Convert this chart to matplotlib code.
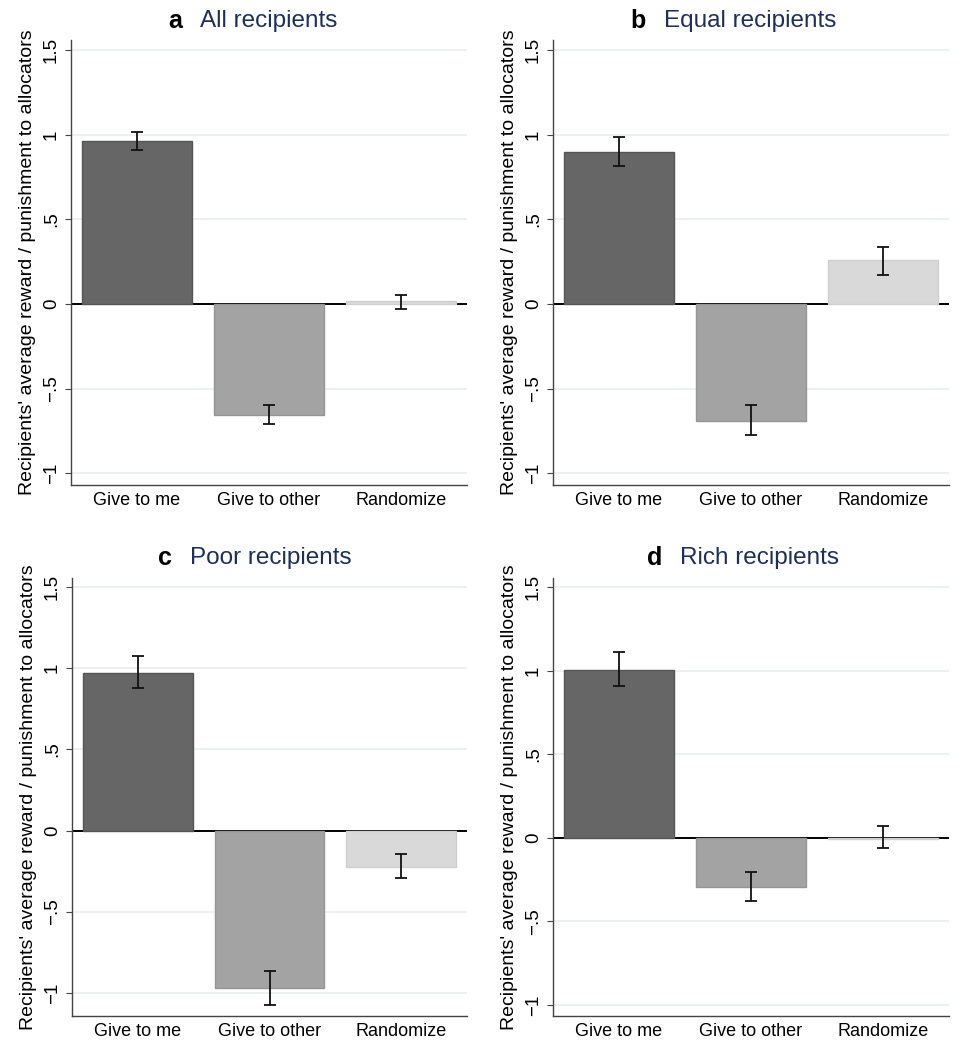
import matplotlib
matplotlib.use("Agg")
import matplotlib.pyplot as plt
import numpy as np

plt.rcParams['font.family'] = ['Liberation Sans', 'DejaVu Sans']

categories = ["Give to me", "Give to other", "Randomize"]
panel_letters = ["a", "b", "c", "d"]
panel_titles = ["All recipients", "Equal recipients", "Poor recipients", "Rich recipients"]

means_a = [0.962, -0.655, 0.015]
lo_a = [0.907, -0.708, -0.030]
hi_a = [1.015, -0.596, 0.055]

means_b = [0.901, -0.689, 0.258]
lo_b = [0.814, -0.773, 0.173]
hi_b = [0.986, -0.600, 0.335]

means_c = [0.973, -0.969, -0.221]
lo_c = [0.877, -1.072, -0.293]
hi_c = [1.074, -0.863, -0.145]

means_d = [1.006, -0.293, -0.006]
lo_d = [0.910, -0.377, -0.062]
hi_d = [1.110, -0.206, 0.068]

yticks = [-1, -0.5, 0, 0.5, 1, 1.5]
ytick_labels = ["\u22121", "\u2212.5", "0", ".5", "1", "1.5"]

bar_colors = ["#666666", "#a3a3a3", "#d9d9d9"]
edge_colors = ["#555555", "#959595", "#cfcfcf"]
title_color = "#1f2f5c"

W, H = 966, 1050
fig = plt.figure(figsize=(W / 100, H / 100), dpi=100)

# axes boxes in pixels: left, right, top, bottom
boxes = [(71, 467, 40, 485), (553, 949, 40, 485),
         (72, 467, 578, 1016), (553, 949, 578, 1016)]
title_pos = [(200, 21), (664, 21), (190, 558), (680, 558)]
ylims = [(-1.07, 1.56), (-1.07, 1.56), (-1.14, 1.555), (-1.066, 1.555)]
data = [(means_a, lo_a, hi_a), (means_b, lo_b, hi_b),
        (means_c, lo_c, hi_c), (means_d, lo_d, hi_d)]

for i, (box, yl, (m, lo, hi)) in enumerate(zip(boxes, ylims, data)):
    l, r, t, b = box
    ax = fig.add_axes([l / W, 1 - b / H, (r - l) / W, (b - t) / H])
    x = np.arange(len(categories))
    for yv in [-1, -0.5, 0.5, 1, 1.5]:
        ax.axhline(yv, color="#e8f0f1", lw=1.2, zorder=0)
    ax.axhline(0, color="black", lw=1.4, zorder=1)
    ax.bar(x, m, width=0.835, color=bar_colors, edgecolor=edge_colors,
           linewidth=1.0, zorder=2)
    m_arr = np.array(m)
    yerr = np.vstack([m_arr - np.array(lo), np.array(hi) - m_arr])
    ax.errorbar(x, m, yerr=yerr, fmt="none", ecolor="#111111",
                elinewidth=1.3, capsize=4, capthick=1.3, zorder=3)
    ax.set_xlim(-0.5, 2.5)
    ax.set_ylim(*yl)
    ax.set_xticks(x)
    ax.set_xticklabels(categories, fontsize=13)
    ax.tick_params(axis="x", length=0, pad=5)
    ax.set_yticks(yticks)
    ax.set_yticklabels(ytick_labels, fontsize=13.5, rotation=90, va="center")
    ax.tick_params(axis="y", length=4, width=0.8, color="#444444", pad=4)
    for s in ["top", "right"]:
        ax.spines[s].set_visible(False)
    for s in ["left", "bottom"]:
        ax.spines[s].set_color("#444444")
        ax.spines[s].set_linewidth(1.0)
    ax.set_ylabel("Recipients' average reward / punishment to allocators",
                  fontsize=14, labelpad=5)
    tx, ty = title_pos[i]
    fig.text((tx - 18) / W, 1 - ty / H, panel_letters[i], fontsize=18,
             fontweight="bold", ha="right", va="center", color="black")
    fig.text(tx / W, 1 - ty / H, panel_titles[i], fontsize=17.5, ha="left",
             va="center", color=title_color)

fig.savefig("out.png", dpi=100)
